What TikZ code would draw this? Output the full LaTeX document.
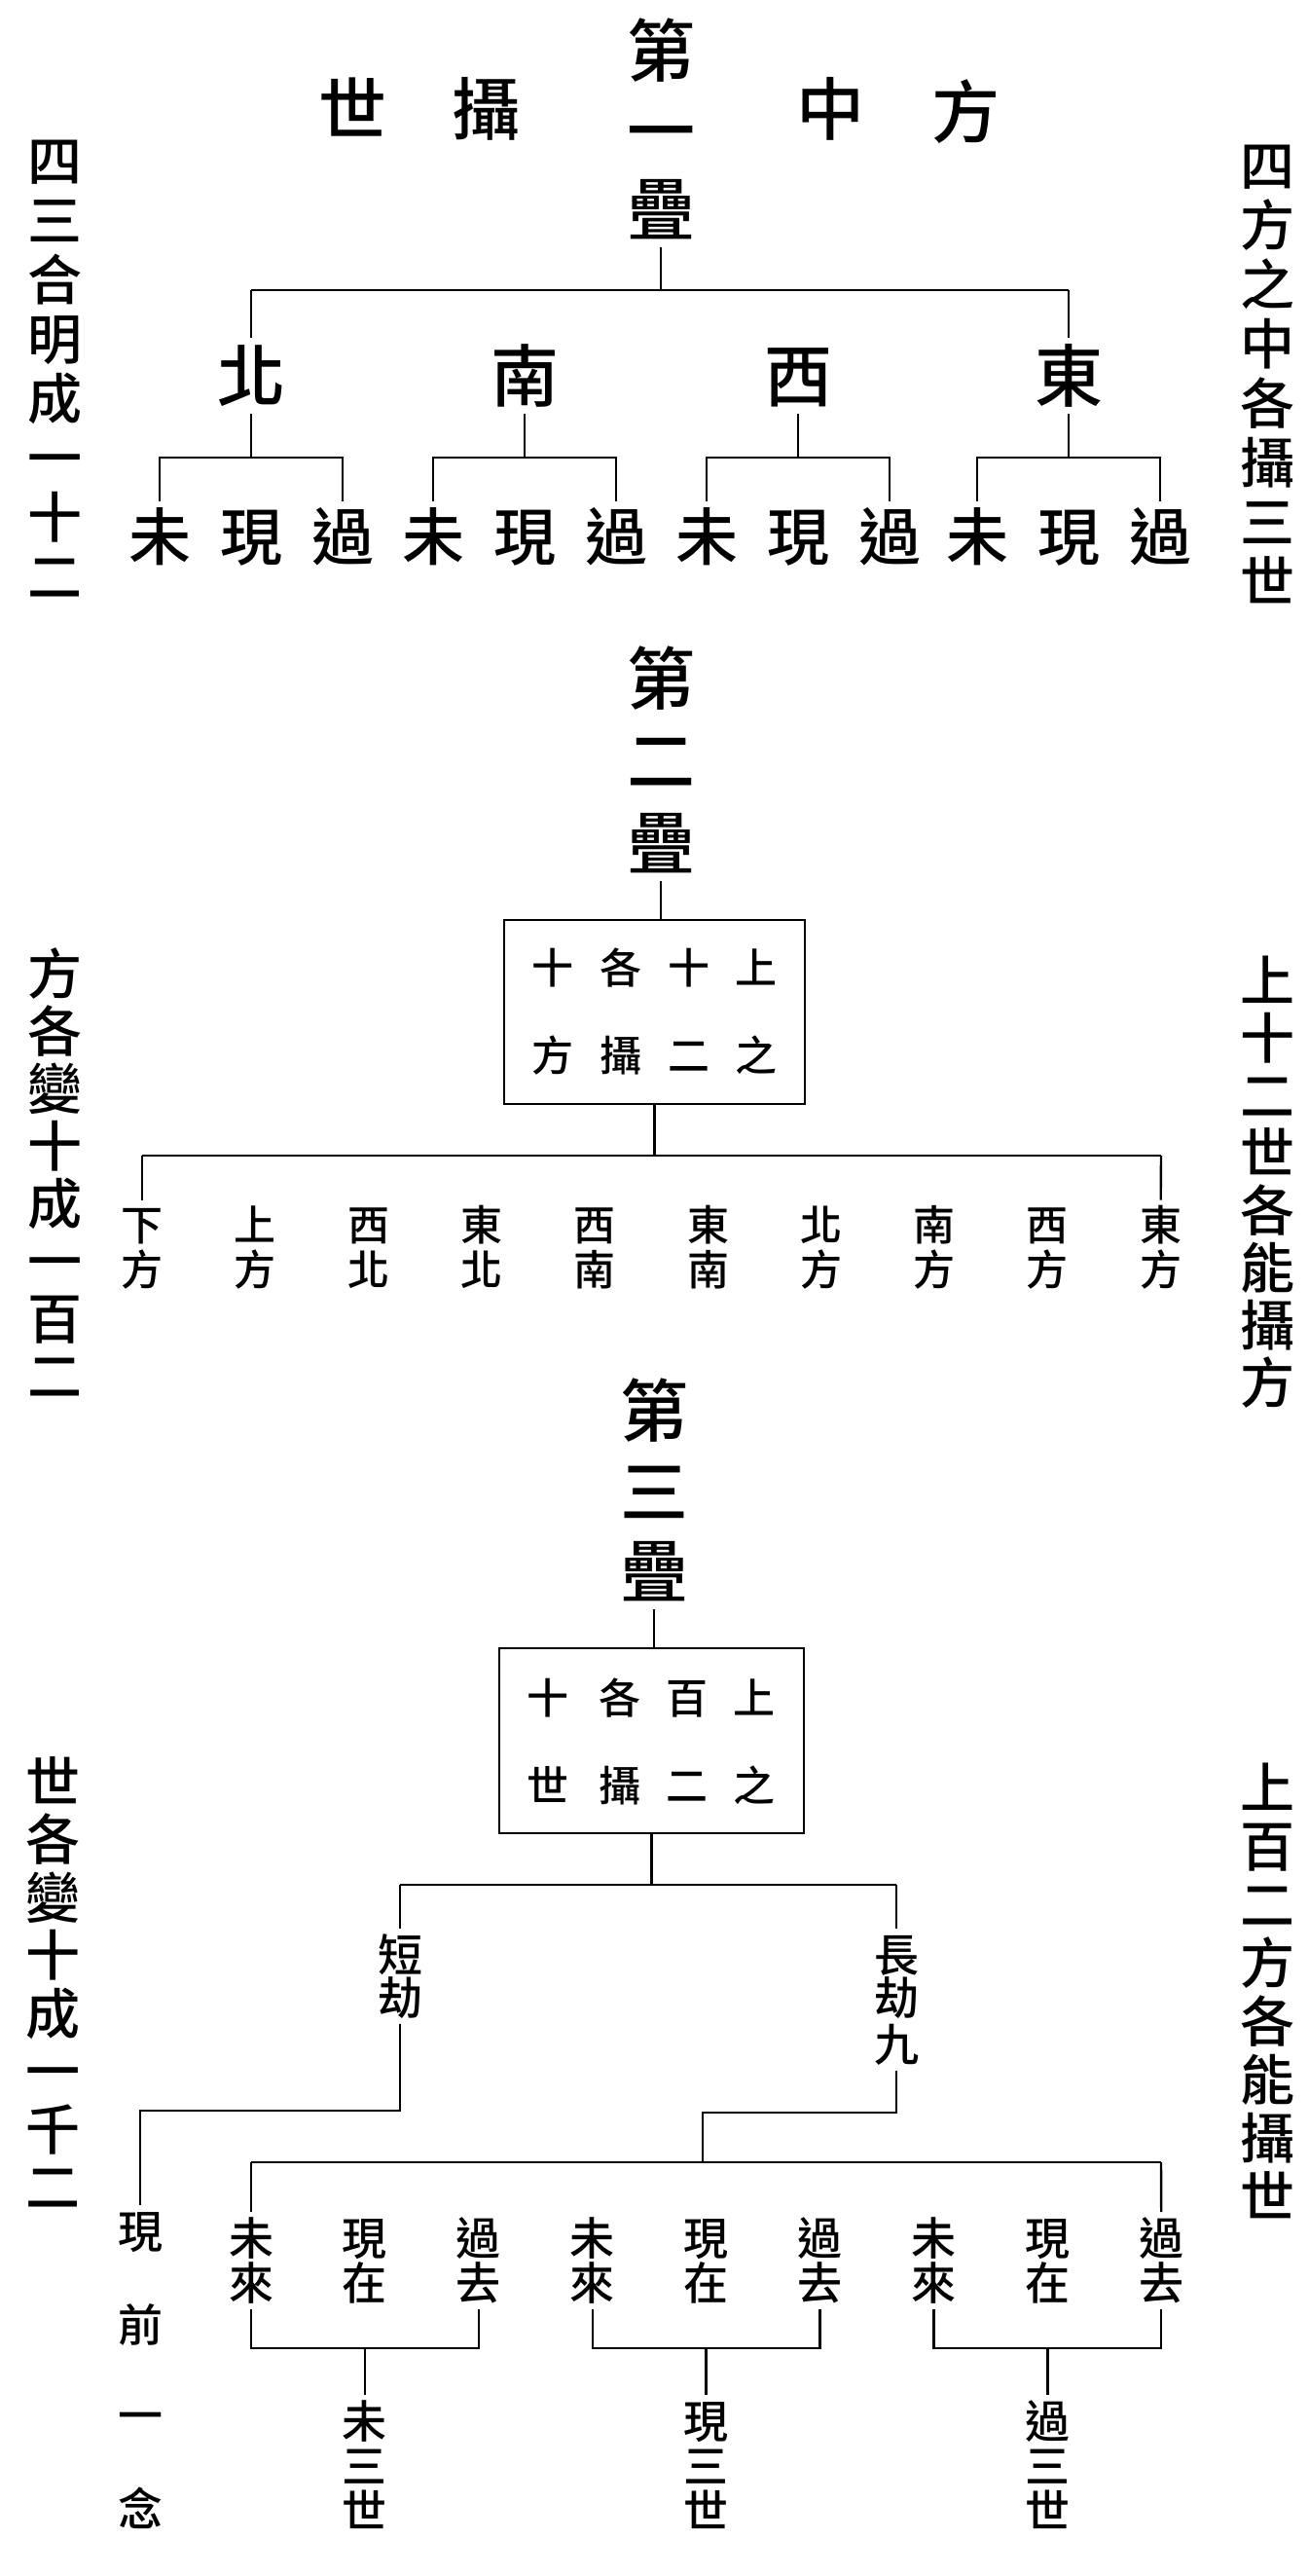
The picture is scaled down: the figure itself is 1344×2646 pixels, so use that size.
\documentclass[tikz,border=0pt]{standalone}
\usepackage{fontspec}
\newfontfamily\cjk{Noto Sans CJK TC}[UprightFont=* Medium]
\begin{document}
\begin{tikzpicture}[x=1pt,y=-1pt,
  link/.style={line width=2.4pt},
  ch/.style={inner sep=0pt, outer sep=4pt, text=black},
  big/.style={ch, font=\cjk\fontsize{70}{70}\selectfont, text height=61.6pt, text depth=8.4pt},
  mid/.style={ch, font=\cjk\fontsize{64}{64}\selectfont, text height=56.3pt, text depth=7.7pt},
  side/.style={ch, font=\cjk\fontsize{56}{56}\selectfont, text height=49.3pt, text depth=6.7pt},
  small/.style={ch, font=\cjk\fontsize{46}{46}\selectfont, text height=40.5pt, text depth=5.5pt},
  lab/.style={ch, font=\cjk\fontsize{43}{43}\selectfont, text height=37.8pt, text depth=5.2pt},
  panel/.style={draw, line width=2.4pt, inner sep=0pt},
]
\fill[white] (0,0) rectangle (1344,2646);
\useasboundingbox (0,0) rectangle (1344,2646);

% ---------- first layer ----------
\node[big] (t1a) at (679,52) {第};
\node[big] (t1b) at (679,134) {一};
\node[big] (t1c) at (679,215) {疊};
\node[big] (h1) at (362,112) {世};
\node[big] (h2) at (499,112) {攝};
\node[big] (h3) at (853,112) {中};
\node[big] (h4) at (992,115) {方};

\foreach \c [count=\i] in {四,三,合,明,成,一,十,二}
  \node[side] (la\i) at (56,{165+61*(\i-1)}) {\c};
\foreach \c [count=\i] in {四,方,之,中,各,攝,三,世}
  \node[side] (ra\i) at (1302,{170+61*(\i-1)}) {\c};

\coordinate (b1L) at (258,298);
\coordinate (b1R) at (1098,298);
\draw[link] (t1c.south) -- (t1c.south |- b1L);
\draw[link] (b1L) -- (b1R);

\foreach \g/\gx/\gc in {1/258/北, 2/539/南, 3/820/西, 4/1098/東} {
  \node[big] (n\g) at (\gx,386) {\gc};
  \node[mid] (w\g) at ({\gx-94},551) {未};
  \node[mid] (x\g) at (\gx,551) {現};
  \node[mid] (p\g) at ({\gx+94},551) {過};
  \coordinate (gb\g) at (\gx,470);
  \draw[link] (n\g.south) -- (gb\g);
  \draw[link] (w\g.north) -- (w\g.north |- gb\g) -- (p\g.north |- gb\g) -- (p\g.north);
}
\draw[link] (b1L) -- (n1.north);
\draw[link] (b1R) -- (n4.north);

% ---------- second layer ----------
\node[big] (t2a) at (679,697) {第};
\node[big] (t2b) at (679,781) {二};
\node[big] (t2c) at (679,866) {疊};

\foreach \c [count=\i] in {方,各,變,十,成,一,百,二}
  \node[side] (lb\i) at (56,{1000+59*(\i-1)}) {\c};
\foreach \c [count=\i] in {上,十,二,世,各,能,攝,方}
  \node[side] (rb\i) at (1302,{1007+59*(\i-1)}) {\c};

\node[panel, minimum width=309pt, minimum height=189pt] (box2) at (672.5,1039.5) {};
\draw[link] (t2c.south) -- (t2c.south |- box2.north);
\foreach \a/\b/\x [count=\i] in {十/方/568, 各/攝/638, 十/二/708, 上/之/777} {
  \node[lab] (ka\i) at (\x,994) {\a};
  \node[lab] (kb\i) at (\x,1084) {\b};
}

\coordinate (b2L) at (146,1187);
\coordinate (b2R) at (1193,1187);
\draw[link] (box2.south) -- (box2.south |- b2L);
\draw[link] (b2L) -- (b2R);
\foreach \a/\b [count=\i] in {下/方, 上/方, 西/北, 東/北, 西/南, 東/南, 北/方, 南/方, 西/方, 東/方} {
  \node[lab] (da\i) at ({146+116.3*(\i-1)},1258) {\a};
  \node[lab] (db\i) at ({146+116.3*(\i-1)},1304) {\b};
}
\draw[link] (b2L) -- (da1.north);
\draw[link] (b2R) -- (da10.north);

% ---------- third layer ----------
\node[big] (t3a) at (672,1449) {第};
\node[big] (t3b) at (672,1532) {三};
\node[big] (t3c) at (672,1614) {疊};

\foreach \c [count=\i] in {世,各,變,十,成,一,千,二}
  \node[side] (lc\i) at (54,{1830+59.5*(\i-1)}) {\c};
\foreach \c [count=\i] in {上,百,二,方,各,能,攝,世}
  \node[side] (rc\i) at (1302,{1836+60*(\i-1)}) {\c};

\node[panel, minimum width=313pt, minimum height=190pt] (box3) at (669.5,1788) {};
\draw[link] (t3c.south) -- (t3c.south |- box3.north);
\foreach \a/\b/\x [count=\i] in {十/世/563, 各/攝/637, 百/二/706, 上/之/775} {
  \node[lab] (ma\i) at (\x,1744) {\a};
  \node[lab] (mb\i) at (\x,1834) {\b};
}

\coordinate (b3L) at (411,1936);
\coordinate (b3R) at (921,1936);
\draw[link] (box3.south) -- (box3.south |- b3L);
\draw[link] (b3L) -- (b3R);

\node[small] (s1) at (411,2008) {短};
\node[small] (s2) at (411,2052) {劫};
\node[small] (l1) at (921,2008) {長};
\node[small] (l2) at (921,2052) {劫};
\node[small] (l3) at (921,2100) {九};
\draw[link] (b3L) -- (s1.north);
\draw[link] (b3R) -- (l1.north);

\foreach \c/\y [count=\i] in {現/2292, 前/2388, 一/2481, 念/2577}
  \node[small] (m\i) at (144,\y) {\c};
\coordinate (c1) at (144,2168);
\draw[link] (s2.south) |- (c1) -- (m1.north);

\coordinate (c2) at (722,2170);
\coordinate (b4L) at (258,2221);
\coordinate (b4R) at (1193,2221);
\draw[link] (l3.south) |- (c2) -- (c2 |- b4L);
\draw[link] (b4L) -- (b4R);

\foreach \a/\b [count=\i] in {未/來, 現/在, 過/去, 未/來, 現/在, 過/去, 未/來, 現/在, 過/去} {
  \node[small] (ea\i) at ({258+116.9*(\i-1)},2299) {\a};
  \node[small] (eb\i) at ({258+116.9*(\i-1)},2345) {\b};
}
\draw[link] (b4L) -- (ea1.north);
\draw[link] (b4R) -- (ea9.north);

\foreach \g/\c in {1/未, 2/現, 3/過} {
  \pgfmathtruncatemacro\lft{3*\g-2}
  \pgfmathtruncatemacro\rgt{3*\g}
  \pgfmathsetmacro\gx{258+116.9*(3*\g-2)}
  \coordinate (gq\g) at (\gx,2412);
  \node[small] (q\g a) at (\gx,2487) {\c};
  \node[small] (q\g b) at (\gx,2533) {三};
  \node[small] (q\g c) at (\gx,2579) {世};
  \draw[link] (eb\lft.south) -- (eb\lft.south |- gq\g) -- (eb\rgt.south |- gq\g) -- (eb\rgt.south);
  \draw[link] (gq\g) -- (q\g a.north);
}
\end{tikzpicture}
\end{document}
